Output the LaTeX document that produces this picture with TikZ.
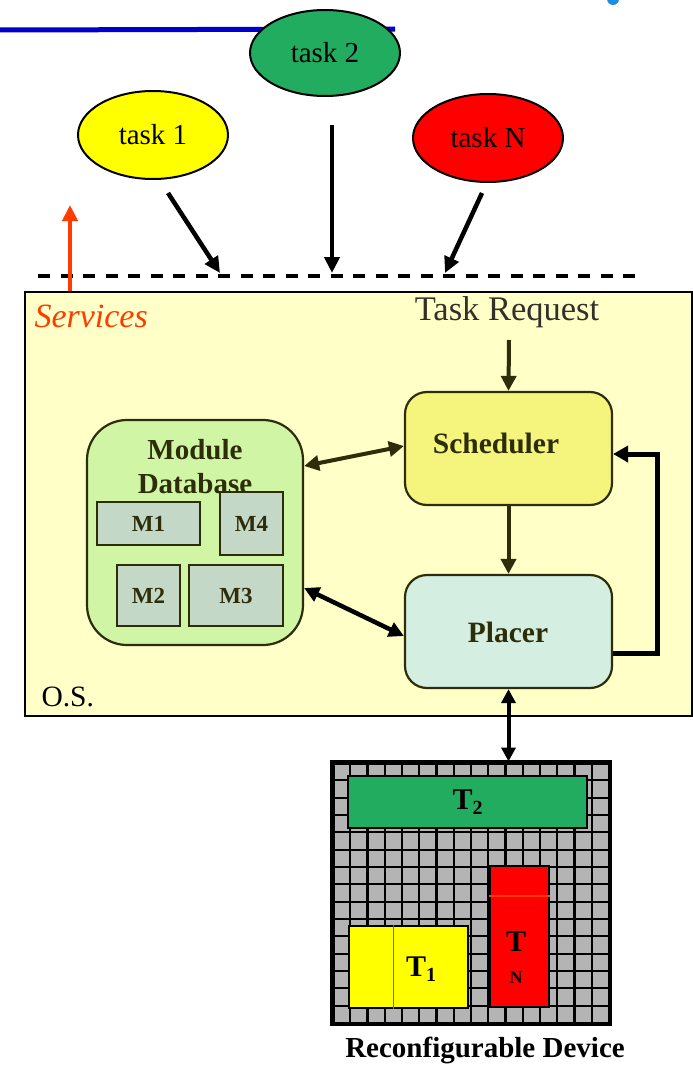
\documentclass[tikz,border=0pt]{standalone}
\usepackage{fontspec}
\setmainfont{Liberation Serif}
\usetikzlibrary{arrows.meta,shapes.geometric}
\definecolor{taskyellow}{RGB}{255,255,0}
\definecolor{taskgreen}{RGB}{34,172,96}
\definecolor{taskred}{RGB}{255,0,0}
\definecolor{osfill}{RGB}{255,255,200}
\definecolor{schedfill}{RGB}{245,245,125}
\definecolor{placerfill}{RGB}{212,238,226}
\definecolor{dbfill}{RGB}{208,245,165}
\definecolor{modfill}{RGB}{196,216,200}
\definecolor{darkline}{RGB}{45,45,10}
\definecolor{svcred}{RGB}{255,60,0}
\definecolor{topblue}{RGB}{0,0,205}
\definecolor{dotblue}{RGB}{30,140,225}
\definecolor{cellgray}{RGB}{180,180,180}
\tikzset{
  task/.style={ellipse,draw=black,line width=2pt,minimum width=150pt,minimum height=88pt,font=\fontsize{29}{31}\selectfont},
  flow/.style={line width=4.5pt,-{Triangle[length=16pt,width=15pt]}},
  unit/.style={draw=darkline,line width=2.2pt,rounded corners=22pt},
  modbox/.style={draw=darkline,fill=modfill,line width=2pt,font=\bfseries\fontsize{23}{25}\selectfont,text=darkline},
  darkarrow/.style={draw=darkline,line width=4pt},
  tile/.style={draw=black,line width=2.8pt,font=\bfseries\fontsize{30}{32}\selectfont}
}
\begin{document}
\begin{tikzpicture}[x=1pt,y=-1pt]
\useasboundingbox (0,0) rectangle (693,1065);

% top decoration
\draw[topblue,line width=5pt] (0,30) -- (395,29);
\fill[dotblue] (613,-1) circle (6);

% tasks
\node[task,fill=taskyellow] (t1) at (153,135) {task 1};
\node[task,fill=taskgreen,minimum height=86pt] (t2) at (325,53) {task 2};
\node[task,fill=taskred] (tN) at (488,138) {task N};

% request line
\draw[line width=3.5pt,dash pattern=on 12pt off 10.5pt] (38,276) -- (636,276);
\coordinate (in1) at (220,273);
\coordinate (in2) at (332,273);
\coordinate (inN) at (445,273);
\coordinate (t1s) at (168,193);
\coordinate (t2s) at (332,125);
\coordinate (tNs) at (482,193);
\draw[flow] (t1s) -- (in1);
\draw[flow] (t2s) -- (in2);
\draw[flow] (tNs) -- (inN);

% operating system area
\node[draw=black,line width=2.5pt,fill=osfill,minimum width=667pt,minimum height=424pt,inner sep=0pt] (os) at (358.5,504) {};
\coordinate (svcup) at (70,205);
\draw[svcred,line width=4.5pt,-{Triangle[length=16pt,width=15pt]}] (os.north -| svcup) -- (svcup);
\node[svcred,font=\itshape\fontsize{34}{36}\selectfont,anchor=west] (svc) at (31,316) {Services};
\node[font=\fontsize{34.5}{36}\selectfont,text=black!85!olive] (treq) at (507,312) {Task Request};
\node[font=\fontsize{29.5}{31}\selectfont,anchor=west] (oslabel) at (38,697) {O.S.};

% module database
\node[draw=darkline,line width=2.2pt,rounded corners=40pt,fill=dbfill,minimum width=216pt,minimum height=225pt] (db) at (195,532.5) {};
\node[font=\bfseries\fontsize{29}{34}\selectfont,align=center,text=darkline] (dbl) at (195,467) {Module\\Database};
\node[modbox,minimum width=103pt,minimum height=43pt] (m1) at (148.5,523.5) {M1};
\node[modbox,minimum width=63pt,minimum height=63pt] (m4) at (251.5,523.5) {M4};
\node[modbox,minimum width=63pt,minimum height=61pt] (m2) at (148.5,595.5) {M2};
\node[modbox,minimum width=94pt,minimum height=61pt] (m3) at (236,595.5) {M3};

% scheduler and placer
\node[unit,fill=schedfill,minimum width=207pt,minimum height=113pt] (sched) at (508.5,448.5) {};
\node[font=\bfseries\fontsize{29.5}{31}\selectfont,text=darkline] (schedl) at (496,443) {Scheduler};
\node[unit,fill=placerfill,minimum width=207pt,minimum height=113pt] (placer) at (508.5,631.5) {};
\node[font=\bfseries\fontsize{29.5}{31}\selectfont,text=darkline] (placerl) at (508,632) {Placer};

\coordinate (trq) at (509,340);
\draw[darkarrow,-{Triangle[length=15pt,width=15pt]}] (trq) -- (sched.north);
\draw[darkarrow,-{Triangle[length=15pt,width=15pt]}] (sched.south) -- (placer.north);
\draw[darkarrow,{Triangle[length=15pt,width=15pt]}-{Triangle[length=15pt,width=15pt]}] (db.east |- 0,466) -- (sched.west |- 0,446);
\draw[line width=4.5pt,{Triangle[length=15pt,width=15pt]}-{Triangle[length=15pt,width=15pt]}] (db.east |- 0,588) -- (placer.west |- 0,636);
\draw[line width=5pt,-{Triangle[length=15pt,width=16pt]}] (placer.east |- 0,653) -- (657,653) -- (657,454) -- (sched.east |- 0,454);

% reconfigurable device
\node[draw=black,line width=3pt,fill=cellgray,minimum width=276pt,minimum height=260pt,inner sep=0pt] (dev) at (471,893) {};
\foreach \i in {1,...,15} \draw[line width=2.2pt] (333+17.25*\i,763) -- (333+17.25*\i,1023);
\foreach \j in {1,...,14} \draw[line width=2.2pt] (333,763+17.33*\j) -- (609,763+17.33*\j);
\draw[line width=3.5pt] (dev.north west) rectangle (dev.south east);
\draw[line width=4pt,{Triangle[length=14pt,width=14pt]}-{Triangle[length=14pt,width=14pt]}] (placer.south) -- (dev.north -| placer.south);

\node[tile,fill=taskgreen,minimum width=239pt,minimum height=52pt] (T2) at (467.5,802) {T\raisebox{-0.35ex}{\fontsize{20}{22}\selectfont 2}};
\node[tile,fill=taskyellow,minimum width=119pt,minimum height=82pt] (T1) at (408.5,967) {};
\draw[olive!80!black,line width=0.8pt] (T1.north -| 393,0) -- (T1.south -| 393,0);
\node[font=\bfseries\fontsize{30}{32}\selectfont] (T1l) at (421,969) {T\raisebox{-0.35ex}{\fontsize{20}{22}\selectfont 1}};
\node[tile,fill=taskred,minimum width=59pt,minimum height=141pt] (TN) at (519.5,936.5) {};
\draw[svcred,line width=1.5pt] (TN.west |- 0,896) -- (TN.east |- 0,896);
\node[font=\bfseries\fontsize{30}{32}\selectfont] (TNl) at (516,942) {T};
\node[font=\bfseries\fontsize{18}{20}\selectfont] (TNs) at (516,978) {N};

\node[font=\bfseries\fontsize{29}{31}\selectfont] (devl) at (485,1050) {Reconfigurable Device};
\end{tikzpicture}
\end{document}
